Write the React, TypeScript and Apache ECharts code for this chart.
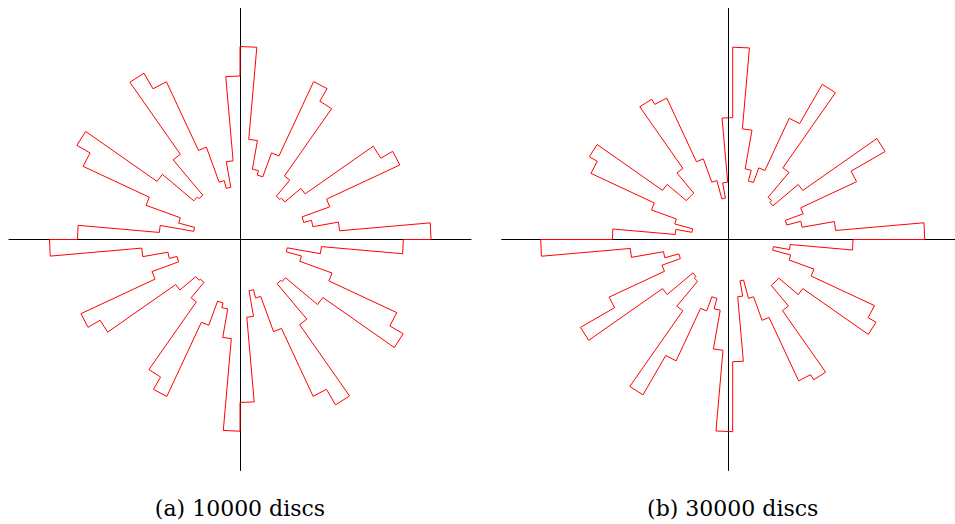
import React, { useEffect, useRef } from "react";
import * as echarts from "echarts";

// Angular bin width (degrees) of the rose histograms: 72 bins, 0..360
const BIN_WIDTH = 5;

// (a) 10000 discs: radial value for each 5° bin starting at 0°, counter-clockwise
const roseA: number[] = [
  191, 100, 74, 66, 95.5, 176.3, 162.6, 79.5, 58.5, 56.5, 77.5, 159.7,
  174.2, 92.2, 66.7, 71.4, 100.5, 193, 163.5, 79, 53, 61, 98.3, 174,
  192, 104, 57.8, 60.2, 101.3, 188.4, 173.1, 100, 63.5, 47, 81, 162.5,
  190.5, 98.7, 73.2, 65.3, 93.7, 175.5, 161.5, 78.5, 57.7, 56, 76.1, 158.8,
  173.1, 91.3, 65.6, 70.5, 99.5, 191.7, 163, 78, 52, 60.5, 98.1, 173,
  191, 104, 57.7, 59.4, 101.2, 188.4, 173, 98, 63.6, 48, 81.7, 163.3,
];

// (b) 30000 discs
const roseB: number[] = [
  192, 103.3, 70.5, 56, 75, 136.7, 176, 85.5, 52.5, 55, 87.5, 179.2,
  133.8, 76.2, 60.6, 71.7, 111, 192.3, 121.9, 57.5, 42, 61, 85.8, 156,
  162, 86.8, 60.5, 60.5, 85.6, 165.5, 156.4, 86.5, 60, 41.4, 57.7, 120.3,
  192, 102.8, 70.3, 55.7, 75.3, 136.4, 175.8, 85.6, 52, 54.5, 87, 179.4,
  133.9, 76, 61, 71.8, 111.2, 192.2, 122.2, 57.5, 42, 61, 86, 156,
  162, 86.8, 60, 60, 85.6, 165.5, 156.4, 86.5, 60, 41.4, 57.7, 120.3,
];

const captions: string[] = ["(a) 10000 discs", "(b) 30000 discs"];

const RADIUS_MAX = 231;

function stepOutline(values: number[]): [number, number][] {
  const pts: [number, number][] = [];
  values.forEach((r, i) => {
    pts.push([r, i * BIN_WIDTH]);
    pts.push([r, (i + 1) * BIN_WIDTH]);
  });
  pts.push([values[0], 0]);
  return pts;
}

export default function App() {
  const ref = useRef<HTMLDivElement>(null);
  useEffect(() => {
    if (!ref.current) return;
    const chart = echarts.init(ref.current, undefined, { renderer: "svg" });
    const centers = [240, 732.7];
    const cy = 239.5;
    const axisStyle = { lineStyle: { color: "#000", width: 1 } };
    const option: any = {
      animation: false,
      backgroundColor: "#fff",
      grid: centers.map((cx) => ({
        left: cx - RADIUS_MAX,
        top: cy - RADIUS_MAX,
        width: RADIUS_MAX * 2,
        height: RADIUS_MAX * 2,
        containLabel: false,
      })),
      xAxis: centers.map((_, i) => ({
        gridIndex: i,
        type: "value",
        min: -RADIUS_MAX,
        max: RADIUS_MAX,
        axisLine: { show: true, onZero: true, ...axisStyle },
        axisTick: { show: false },
        axisLabel: { show: false },
        splitLine: { show: false },
      })),
      yAxis: centers.map((_, i) => ({
        gridIndex: i,
        type: "value",
        min: -RADIUS_MAX,
        max: RADIUS_MAX,
        axisLine: { show: true, onZero: true, ...axisStyle },
        axisTick: { show: false },
        axisLabel: { show: false },
        splitLine: { show: false },
      })),
      polar: centers.map((cx) => ({ center: [cx, cy], radius: RADIUS_MAX })),
      angleAxis: centers.map((_, i) => ({
        polarIndex: i,
        type: "value",
        min: 0,
        max: 360,
        startAngle: 0,
        clockwise: false,
        show: false,
      })),
      radiusAxis: centers.map((_, i) => ({
        polarIndex: i,
        type: "value",
        min: 0,
        max: RADIUS_MAX,
        show: false,
      })),
      series: [roseA, roseB].map((vals, i) => ({
        type: "line",
        coordinateSystem: "polar",
        polarIndex: i,
        data: stepOutline(vals),
        showSymbol: false,
        symbol: "none",
        z: 5,
        lineStyle: { color: "#ff0000", width: 1 },
        silent: true,
      })),
      graphic: captions.map((t, i) => ({
        type: "text",
        x: centers[i],
        y: 508,
        style: {
          text: t,
          fontFamily: "DejaVu Serif",
          fontSize: 22,
          fill: "#000",
          textAlign: "center",
          textVerticalAlign: "middle",
        },
      })),
    };
    chart.setOption(option);
    return () => chart.dispose();
  }, []);
  return (
    <div
      ref={ref}
      style={{ position: "absolute", left: 0, top: 0, width: 955, height: 524 }}
    />
  );
}
